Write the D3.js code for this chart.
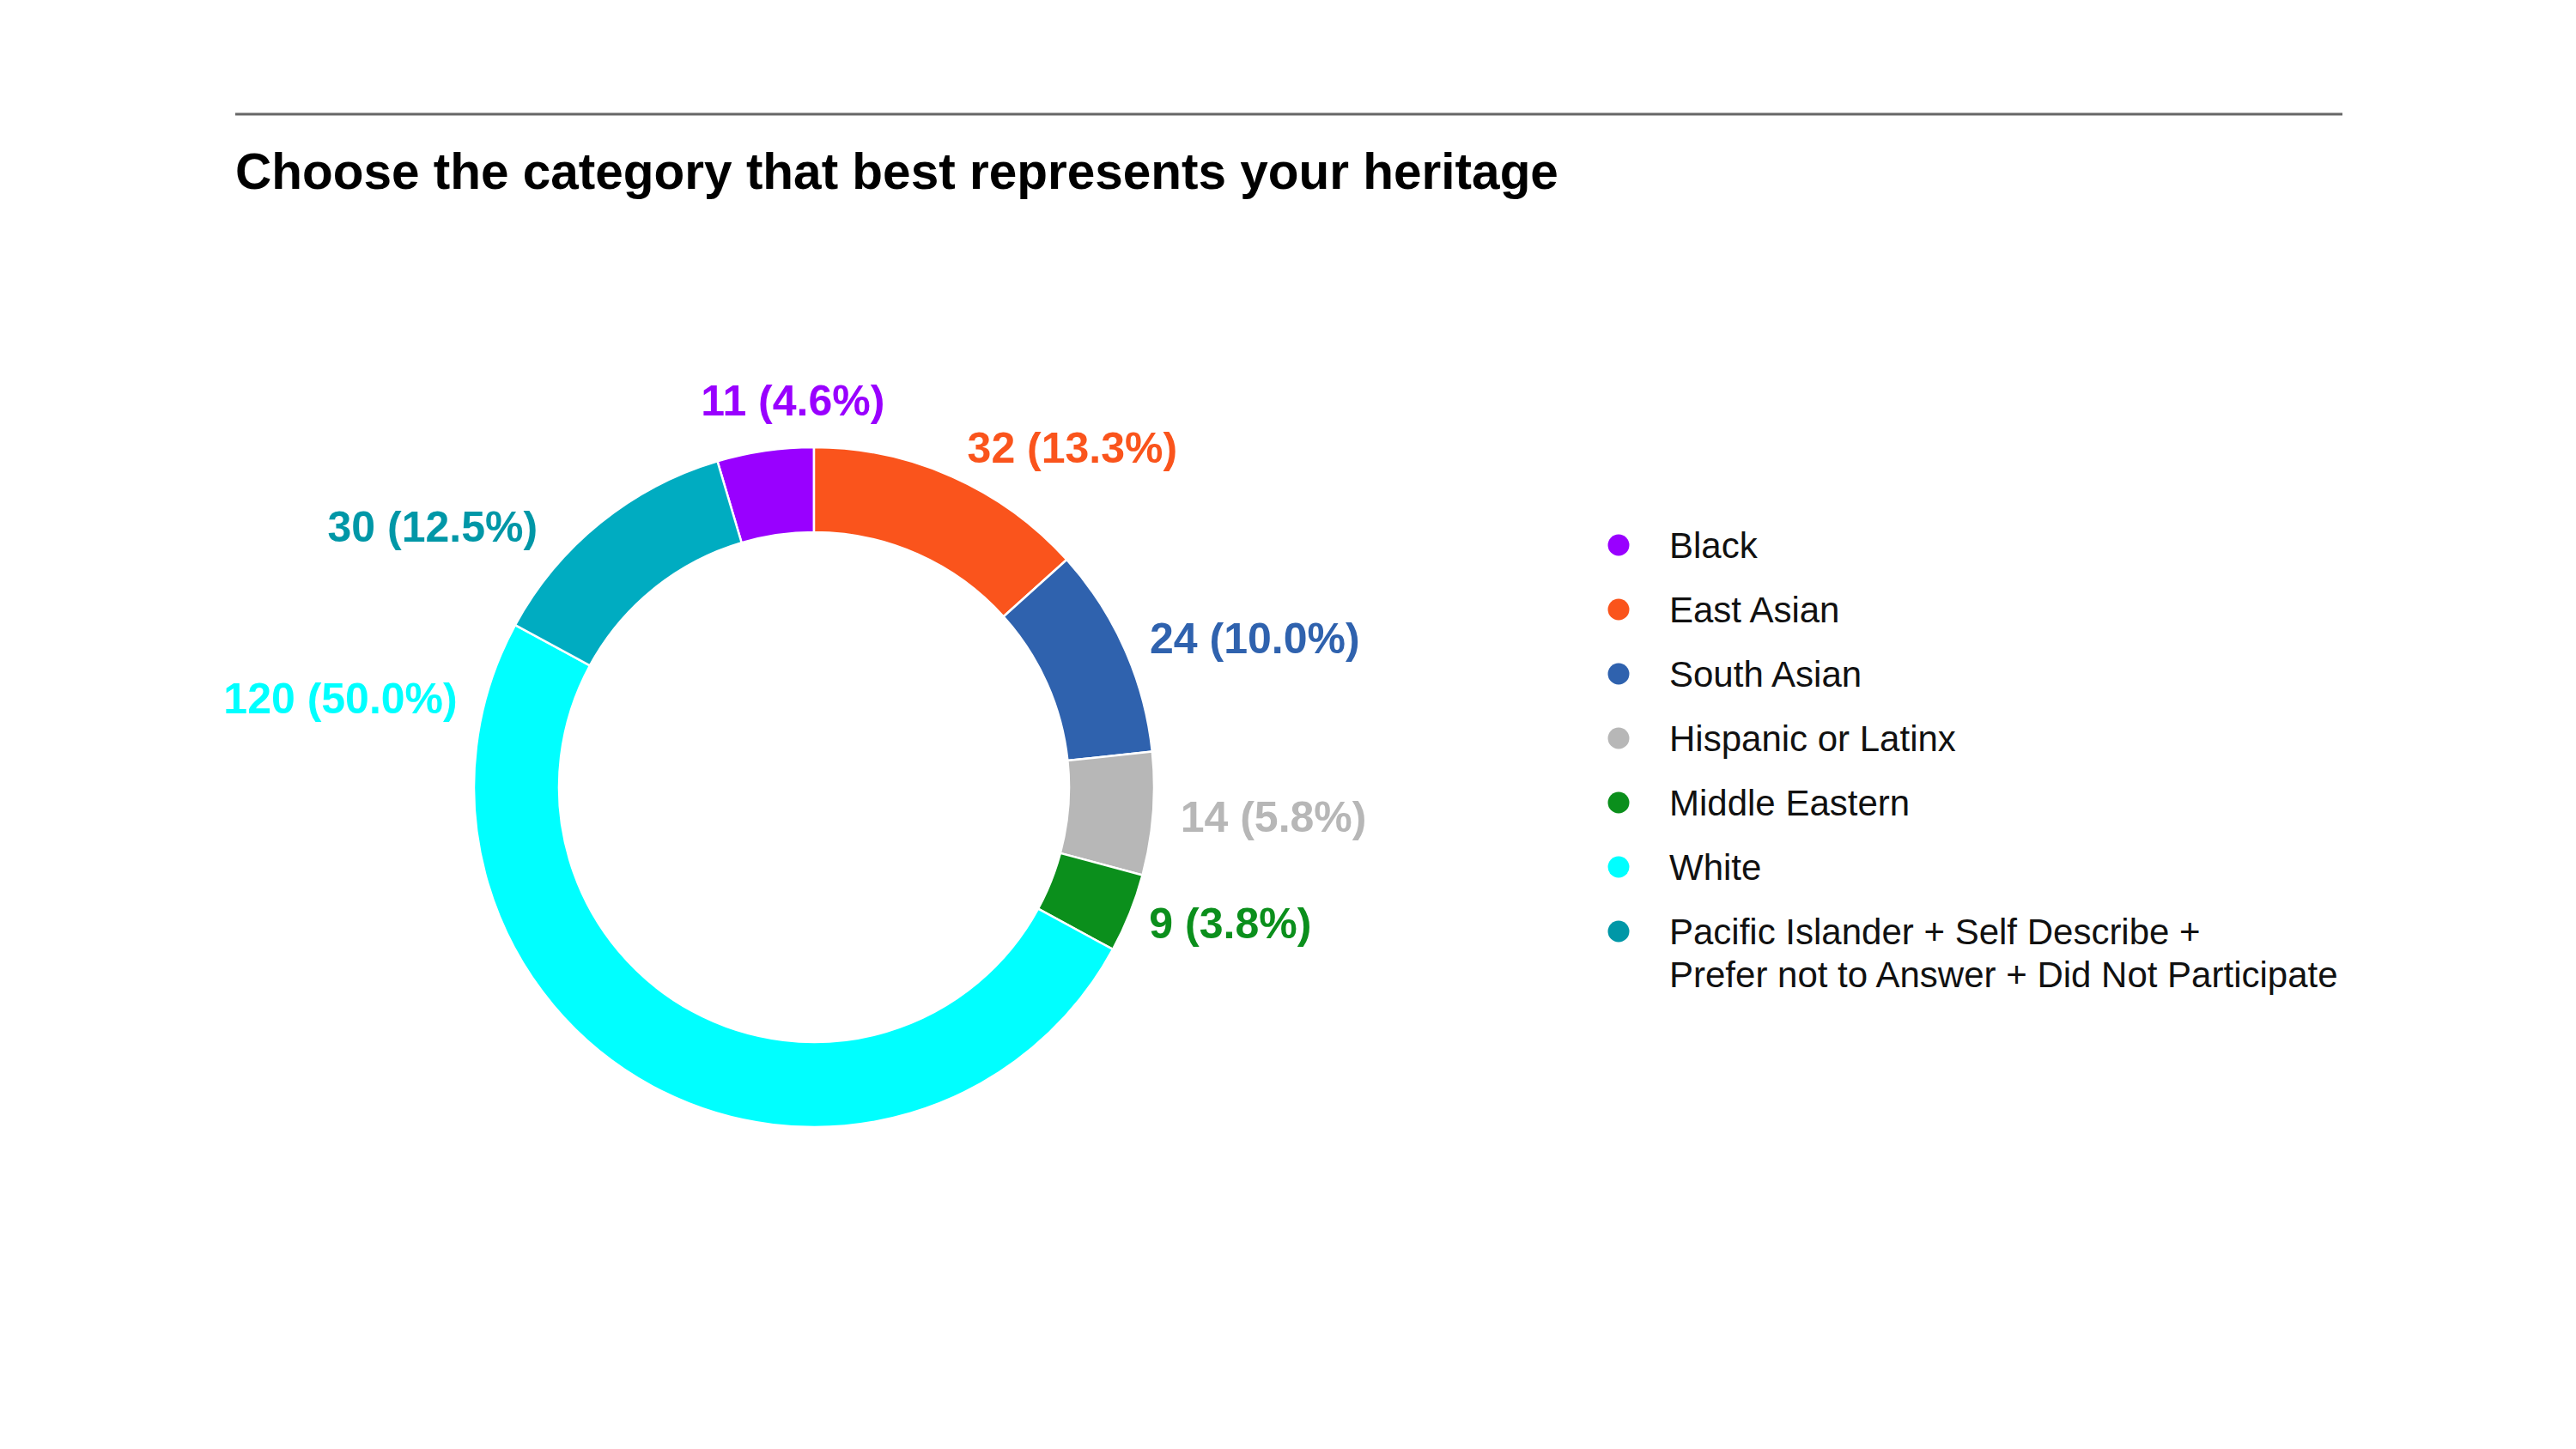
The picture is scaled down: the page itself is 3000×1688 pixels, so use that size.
<!DOCTYPE html>
<html>
<head>
<meta charset="utf-8">
<script src="https://cdn.jsdelivr.net/npm/d3@7"></script>
<style>
  html, body { margin: 0; padding: 0; background: #ffffff; }
  svg { display: block; }
  text { font-family: "Liberation Sans", Arial, Helvetica, sans-serif; }
</style>
</head>
<body>
<svg id="chart" width="3000" height="1688"></svg>
<script>
// ---------------- data ----------------
const title = "Choose the category that best represents your heritage";
const categories = [
  "Black",
  "East Asian",
  "South Asian",
  "Hispanic or Latinx",
  "Middle Eastern",
  "White",
  "Pacific Islander + Self Describe + Prefer not to Answer + Did Not Participate"
];
const legendLines = [
  ["Black"],
  ["East Asian"],
  ["South Asian"],
  ["Hispanic or Latinx"],
  ["Middle Eastern"],
  ["White"],
  ["Pacific Islander + Self Describe +", "Prefer not to Answer + Did Not Participate"]
];
const values = [11, 32, 24, 14, 9, 120, 30];

// ---------------- styles ----------------
const sliceColors = ["#9900ff", "#fa541c", "#2f62ae", "#b7b7b7", "#0b8f1c", "#00ffff", "#00acc1"];
const textColors  = ["#9900ff", "#fa541c", "#2f62ae", "#b7b7b7", "#0b8f1c", "#00ffff", "#0097a7"];

// ---------------- layout ----------------
const W = 3000, H = 1688;
const cx = 948, cy = 917, outerR = 396, innerR = 297;
const labelR = 428;
// label placement where the reference moves a label off the slice middle (angle in degrees, clockwise from 12 o'clock)
const labelOverride = {
  "Black": { angle: -3.3, r: 428 },
  "East Asian": { angle: 24.3, r: 434 },
  "Middle Eastern": { angle: 112, r: 421 },
  "White": { angle: 284, r: 428 },
  [categories[6]]: { angle: 313.4, r: 443 }
};
const labelFont = 50, legendFont = 42, titleFont = 58.5;

const svg = d3.select("#chart");
svg.append("rect").attr("width", W).attr("height", H).attr("fill", "#fff");

// top rule and title
svg.append("line")
  .attr("x1", 274).attr("x2", 2728).attr("y1", 133).attr("y2", 133)
  .attr("stroke", "#666").attr("stroke-width", 3);
svg.append("text")
  .attr("x", 274).attr("y", 220)
  .attr("font-size", titleFont).attr("font-weight", "bold").attr("fill", "#000")
  .text(title);

// donut
const total = d3.sum(values);
const firstShare = 2 * Math.PI * values[0] / total;
const pie = d3.pie().sort(null).value(d => d)
  .startAngle(-firstShare).endAngle(2 * Math.PI - firstShare);
const arcs = pie(values);
const arc = d3.arc().innerRadius(innerR).outerRadius(outerR);

const g = svg.append("g").attr("transform", `translate(${cx},${cy})`);
g.selectAll("path.slice").data(arcs).join("path")
  .attr("class", "slice")
  .attr("d", arc)
  .attr("fill", (d, i) => sliceColors[i])
  .attr("stroke", "#fff").attr("stroke-width", 2.5).attr("stroke-linejoin", "round");

// value labels
const fmtPct = d3.format(".1f");
g.selectAll("text.val").data(arcs).join("text")
  .attr("class", "val")
  .each(function(d, i) {
    const name = categories[i];
    const ov = labelOverride[name];
    const a = ov ? ov.angle * Math.PI / 180 : (d.startAngle + d.endAngle) / 2;
    const r = ov ? ov.r : labelR;
    const s = Math.sin(a), c = Math.cos(a);
    const px = r * s, py = -r * c;
    let anchor, y;
    if (Math.abs(s) < 0.3) { anchor = "middle"; y = -(r + 6) * c; }
    else { anchor = s > 0 ? "start" : "end"; y = py + labelFont * 0.36; }
    d3.select(this)
      .attr("x", px).attr("y", y)
      .attr("text-anchor", anchor)
      .attr("font-size", labelFont).attr("font-weight", "bold")
      .attr("fill", textColors[i])
      .text(`${values[i]} (${fmtPct(values[i] / total * 100)}%)`);
  });

// legend
const legendX = 1885, legendY0 = 635, legendStep = 75, dotR = 12.5, textDX = 59, lineH = 50;
const lg = svg.append("g");
const items = lg.selectAll("g.item").data(categories).join("g")
  .attr("class", "item")
  .attr("transform", (d, i) => `translate(${legendX},${legendY0 + i * legendStep})`);
items.append("circle").attr("r", dotR).attr("fill", (d, i) => textColors[i]);
items.append("text")
  .attr("x", textDX).attr("y", 15)
  .attr("font-size", legendFont).attr("fill", "#111")
  .each(function(d, i) {
    const t = d3.select(this);
    legendLines[i].forEach((ln, k) => {
      t.append("tspan").attr("x", textDX).attr("dy", k === 0 ? 0 : lineH).text(ln);
    });
  });
</script>
</body>
</html>
